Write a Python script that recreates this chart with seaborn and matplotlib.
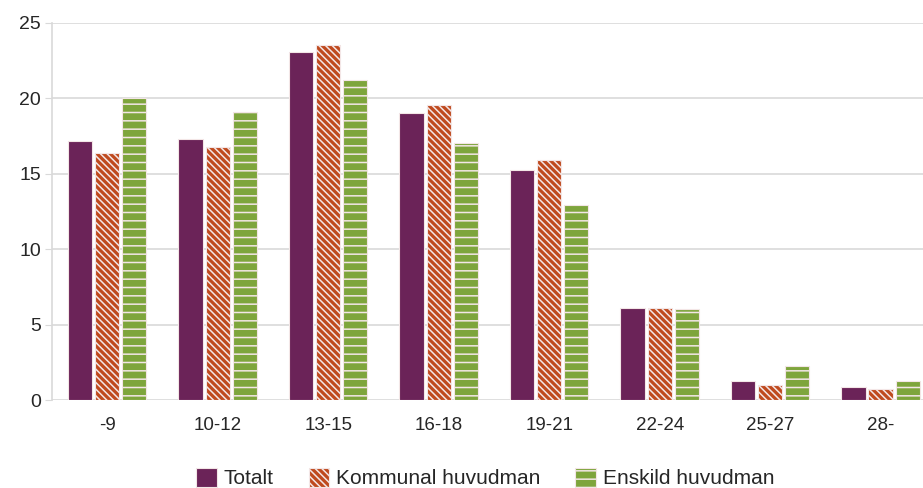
import matplotlib
matplotlib.use("Agg")
import matplotlib.pyplot as plt
import seaborn as sns
import pandas as pd

kategorier = ["-9", "10-12", "13-15", "16-18", "19-21", "22-24", "25-27", "28-"]
totalt = [17.2, 17.3, 23.1, 19.0, 15.25, 6.1, 1.26, 0.86]
kommunal = [16.4, 16.8, 23.55, 19.55, 15.9, 6.1, 1.0, 0.73]
enskild = [20.0, 19.1, 21.2, 17.05, 12.9, 6.05, 2.25, 1.26]
serier = ["Totalt", "Kommunal huvudman", "Enskild huvudman"]
farger = ["#6B2358", "#BF4A1E", "#7EA53C"]
monster = ["", "\\\\\\\\\\", "--"]

df = pd.DataFrame({
    "kategori": kategorier * 3,
    "varde": totalt + kommunal + enskild,
    "serie": [serier[0]] * 8 + [serier[1]] * 8 + [serier[2]] * 8,
})

sns.set_style("white")
plt.rcParams["font.family"] = ["Liberation Sans", "DejaVu Sans"]
plt.rcParams["hatch.linewidth"] = 1.1

fig = plt.figure(figsize=(9.23, 4.88), dpi=100)
ax = fig.add_axes([0.0563, 0.1803, 0.9577, 0.7726])

sns.barplot(data=df, x="kategori", y="varde", hue="serie", palette=farger,
            width=0.735, gap=0.1, ax=ax, legend=False, saturation=1)

for cont, h in zip(ax.containers, monster):
    for p in cont:
        p.set_hatch(h)
        p.set_edgecolor("#f3e6e6")
        p.set_linewidth(0.8)

ax.set_ylim(0, 25)
ax.set_yticks([0, 5, 10, 15, 20, 25])
ax.yaxis.grid(True, color="#d9d9d9", linewidth=1.2)
ax.set_axisbelow(True)
ax.set_xlabel("")
ax.set_ylabel("")
for s in ["top", "right", "bottom"]:
    ax.spines[s].set_visible(False)
ax.spines["left"].set_color("#d9d9d9")
ax.spines["left"].set_linewidth(1.2)
ax.tick_params(axis="y", left=True, length=5, color="#d9d9d9", labelsize=14, pad=3)
ax.tick_params(axis="x", bottom=False, labelsize=13.5, pad=9)

fig.legend(handles=ax.containers, labels=serier, loc="center",
           bbox_to_anchor=(0.5255, 0.02), ncol=3, frameon=False, fontsize=15,
           handlelength=1.0, handleheight=1.0, columnspacing=1.7, handletextpad=0.3)

fig.savefig("out.png", dpi=100)
